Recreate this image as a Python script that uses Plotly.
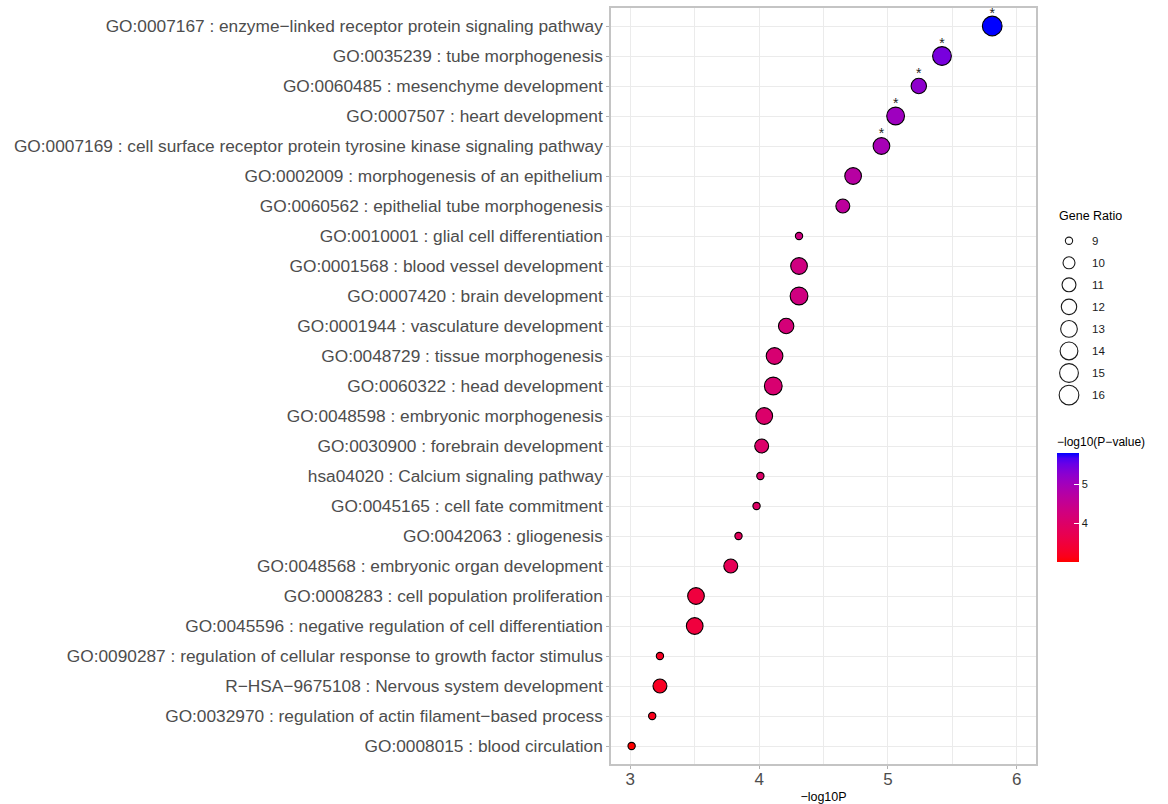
import numpy as np
import plotly.graph_objects as go

# Enriched terms, listed top to bottom
terms = [
    "GO:0007167 : enzyme\u2212linked receptor protein signaling pathway",
    "GO:0035239 : tube morphogenesis",
    "GO:0060485 : mesenchyme development",
    "GO:0007507 : heart development",
    "GO:0007169 : cell surface receptor protein tyrosine kinase signaling pathway",
    "GO:0002009 : morphogenesis of an epithelium",
    "GO:0060562 : epithelial tube morphogenesis",
    "GO:0010001 : glial cell differentiation",
    "GO:0001568 : blood vessel development",
    "GO:0007420 : brain development",
    "GO:0001944 : vasculature development",
    "GO:0048729 : tissue morphogenesis",
    "GO:0060322 : head development",
    "GO:0048598 : embryonic morphogenesis",
    "GO:0030900 : forebrain development",
    "hsa04020 : Calcium signaling pathway",
    "GO:0045165 : cell fate commitment",
    "GO:0042063 : gliogenesis",
    "GO:0048568 : embryonic organ development",
    "GO:0008283 : cell population proliferation",
    "GO:0045596 : negative regulation of cell differentiation",
    "GO:0090287 : regulation of cellular response to growth factor stimulus",
    "R\u2212HSA\u22129675108 : Nervous system development",
    "GO:0032970 : regulation of actin filament\u2212based process",
    "GO:0008015 : blood circulation",
]

neg_log10_p = [
    5.81, 5.42, 5.24, 5.06, 4.95, 4.73, 4.65, 4.31, 4.31, 4.31,
    4.21, 4.12, 4.11, 4.04, 4.02, 4.01, 3.98, 3.84, 3.78, 3.51,
    3.50, 3.23, 3.23, 3.17, 3.01,
]

gene_ratio = [
    16, 15, 12, 14, 13, 13, 11, 9, 13, 14,
    12, 13, 14, 13, 11, 9, 9, 9, 11, 13,
    13, 9, 11, 9, 9,
]

significant = [True] * 5 + [False] * 20

size_breaks = [9, 10, 11, 12, 13, 14, 15, 16]
color_ticks = [4, 5]

FONT = "Liberation Sans, Arial, sans-serif"
W, H = 1168, 804
ML, MR, MT, MB = 611, 0, 8, 40
PW, PH = W - ML - MR, H - MT - MB


# --- red -> blue gradient interpolated in CIE Lab space ---
def _srgb_to_lab(rgb):
    c = np.array(rgb, dtype=float) / 255.0
    c = np.where(c <= 0.04045, c / 12.92, ((c + 0.055) / 1.055) ** 2.4)
    m = np.array([[0.4124564, 0.3575761, 0.1804375],
                  [0.2126729, 0.7151522, 0.0721750],
                  [0.0193339, 0.1191920, 0.9503041]])
    xyz = m @ c / np.array([0.95047, 1.0, 1.08883])
    f = np.where(xyz > 0.008856, np.cbrt(xyz), 7.787 * xyz + 16 / 116)
    return np.array([116 * f[1] - 16, 500 * (f[0] - f[1]), 200 * (f[1] - f[2])])


def _lab_to_hex(lab):
    L, a, b = lab
    fy = (L + 16) / 116
    fx = fy + a / 500
    fz = fy - b / 200
    f = np.array([fx, fy, fz])
    xyz = np.where(f ** 3 > 0.008856, f ** 3, (f - 16 / 116) / 7.787)
    xyz = xyz * np.array([0.95047, 1.0, 1.08883])
    m = np.array([[3.2404542, -1.5371385, -0.4985314],
                  [-0.9692660, 1.8760108, 0.0415560],
                  [0.0556434, -0.2040259, 1.0572252]])
    c = m @ xyz
    c = np.clip(c, 0, 1)
    c = np.where(c <= 0.0031308, 12.92 * c, 1.055 * c ** (1 / 2.4) - 0.055)
    r, g, bb = (np.clip(np.round(c * 255), 0, 255)).astype(int)
    return f"#{r:02x}{g:02x}{bb:02x}"


lab_lo = _srgb_to_lab((255, 0, 0))
lab_hi = _srgb_to_lab((0, 0, 255))
colorscale = [[t, _lab_to_hex(lab_lo + (lab_hi - lab_lo) * t)]
              for t in np.linspace(0, 1, 21)]


# --- size scale: area proportional to gene ratio ---
def point_diameter(g):
    lo, hi = min(size_breaks), max(size_breaks)
    return 7.3 + 12.4 * np.sqrt((np.asarray(g, dtype=float) - lo) / (hi - lo))


n = len(terms)
ypos = np.arange(n, 0, -1)

fig = go.Figure()

fig.add_trace(go.Scatter(
    x=neg_log10_p,
    y=ypos,
    mode="markers",
    marker=dict(
        size=point_diameter(gene_ratio),
        opacity=1,
        color=neg_log10_p,
        colorscale=colorscale,
        cmin=min(neg_log10_p),
        cmax=max(neg_log10_p),
        line=dict(color="#000000", width=1.1),
        colorbar=dict(
            title=dict(text="\u2212log10(P\u2212value)", side="top",
                       font=dict(family=FONT, size=12, color="#000000")),
            x=(1057 - ML) / PW, xanchor="left",
            y=(H - MB - 498) / PH, yanchor="middle",
            len=128, lenmode="pixels",
            thickness=22, thicknessmode="pixels",
            outlinewidth=0,
            tickvals=color_ticks,
            ticks="inside", tickcolor="#ffffff", ticklen=5,
            tickfont=dict(family=FONT, size=11, color="#1a1a1a"),
            xpad=0, ypad=0,
        ),
    ),
    hoverinfo="skip",
    showlegend=False,
))

# asterisks over the significant terms
sig_x = [v for v, s in zip(neg_log10_p, significant) if s]
sig_y = [y + 0.4 for y, s in zip(ypos, significant) if s]
fig.add_trace(go.Scatter(
    x=sig_x, y=sig_y, mode="text", text=["*"] * len(sig_x),
    textposition="middle center",
    textfont=dict(family=FONT, size=14, color="#222222"),
    hoverinfo="skip", showlegend=False,
))

# size guide drawn on its own small axes
fig.add_trace(go.Scatter(
    x=[0.161] * len(size_breaks),
    y=size_breaks,
    mode="markers",
    marker=dict(size=point_diameter(size_breaks), color="rgba(255,255,255,0)",
                opacity=1, line=dict(color="#1a1a1a", width=1.1)),
    xaxis="x2", yaxis="y2",
    hoverinfo="skip", showlegend=False,
))

annotations = [
    dict(x=0.34, y=b, xref="x2", yref="y2", text=str(b), showarrow=False,
         xanchor="left", yanchor="middle",
         font=dict(family=FONT, size=11.5, color="#1a1a1a"))
    for b in size_breaks
]
annotations.append(dict(
    x=(1057 - ML) / PW, y=(H - MB - 216) / PH, xref="paper", yref="paper",
    text="Gene Ratio", showarrow=False, xanchor="left", yanchor="middle",
    font=dict(family=FONT, size=12.5, color="#000000"),
))

grid = "#EBEBEB"
border = "#C4C4C4"

fig.update_layout(
    width=W, height=H,
    margin=dict(l=ML, r=MR, t=MT, b=MB, pad=0),
    paper_bgcolor="#ffffff",
    plot_bgcolor="#ffffff",
    font=dict(family=FONT),
    xaxis=dict(
        domain=[0, (1036 - ML) / PW],
        range=[2.85, 6.15],
        tickvals=[3, 4, 5, 6],
        showgrid=True, gridcolor=grid, gridwidth=1.2,
        minor=dict(dtick=0.5, tick0=3, showgrid=True, gridcolor=grid,
                   gridwidth=0.8, ticks=""),
        zeroline=False,
        showline=True, mirror=True, linecolor=border, linewidth=1.5,
        ticks="outside", ticklen=3, tickcolor="#B3B3B3", tickwidth=1,
        ticklabelstandoff=-4,
        tickfont=dict(family=FONT, size=17, color="#4D4D4D"),
        title=dict(text="\u2212log10P", standoff=4,
                   font=dict(family=FONT, size=12.5, color="#000000")),
    ),
    yaxis=dict(
        range=[0.4, n + 0.6],
        tickvals=list(ypos),
        ticktext=terms,
        showgrid=True, gridcolor=grid, gridwidth=1.2,
        zeroline=False,
        showline=True, mirror=True, linecolor=border, linewidth=1.5,
        ticks="outside", ticklen=3, tickcolor="#B3B3B3", tickwidth=1,
        tickfont=dict(family=FONT, size=17.3, color="#4D4D4D"),
    ),
    xaxis2=dict(domain=[(1050 - ML) / PW, 1], range=[0, 1], anchor="y2",
                visible=False, fixedrange=True),
    yaxis2=dict(domain=[0, 1], range=[32.74, -1.56], anchor="x2",
                visible=False, fixedrange=True),
    annotations=annotations,
)

fig.write_html("out.html")
